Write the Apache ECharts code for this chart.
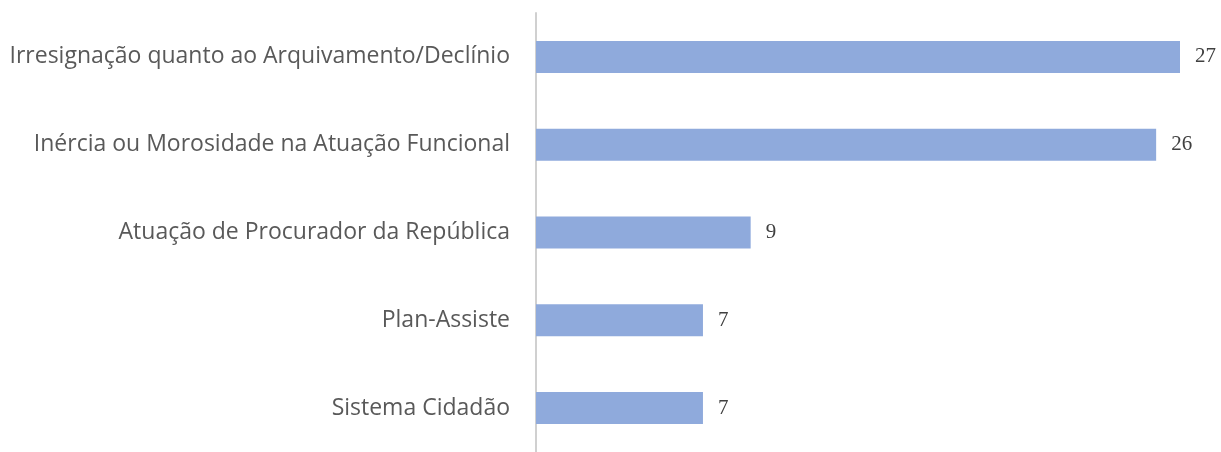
<!DOCTYPE html>
<html>
<head>
<meta charset="utf-8">
<script src="https://cdn.jsdelivr.net/npm/echarts@6/dist/echarts.min.js"></script>
<style>
    html, body { margin: 0; padding: 0; background: #fff; }
    #chart { width: 1221px; height: 452px; }
</style>
</head>
<body>
<div id="chart"></div>
<script>
// categories listed bottom to top (category axis starts at the bottom)
var categories = ['Sistema Cidadão', 'Plan-Assiste', 'Atuação de Procurador da República',
    'Inércia ou Morosidade na Atuação Funcional', 'Irresignação quanto ao Arquivamento/Declínio'];
var values = [7, 7, 9, 26, 27];

window.onload = function () {
    initBarChart();
};

var bar_chart;
function initBarChart() {
    bar_chart = echarts.init(document.getElementById('chart'));

    var option = {
        animation: false,
        grid: {
            left: 536,
            top: 13,
            width: 644,
            height: 445
        },
        xAxis: {
            type: 'value',
            min: 0,
            max: 27,
            show: false
        },
        yAxis: {
            type: 'category',
            data: categories,
            axisLine: { lineStyle: { color: '#d0d0d0', width: 2 } },
            axisTick: { show: false },
            axisLabel: {
                color: '#595959',
                fontFamily: 'Open Sans',
                fontSize: 23,
                margin: 26
            }
        },
        series: [
            {
                type: 'bar',
                data: values,
                barWidth: 32,
                itemStyle: { color: '#8faadc' },
                label: {
                    show: true,
                    position: 'right',
                    distance: 15,
                    color: '#404040',
                    fontFamily: 'Liberation Serif',
                    fontSize: 21
                }
            }
        ]
    };

    bar_chart.setOption(option);
}
</script>
</body>
</html>
